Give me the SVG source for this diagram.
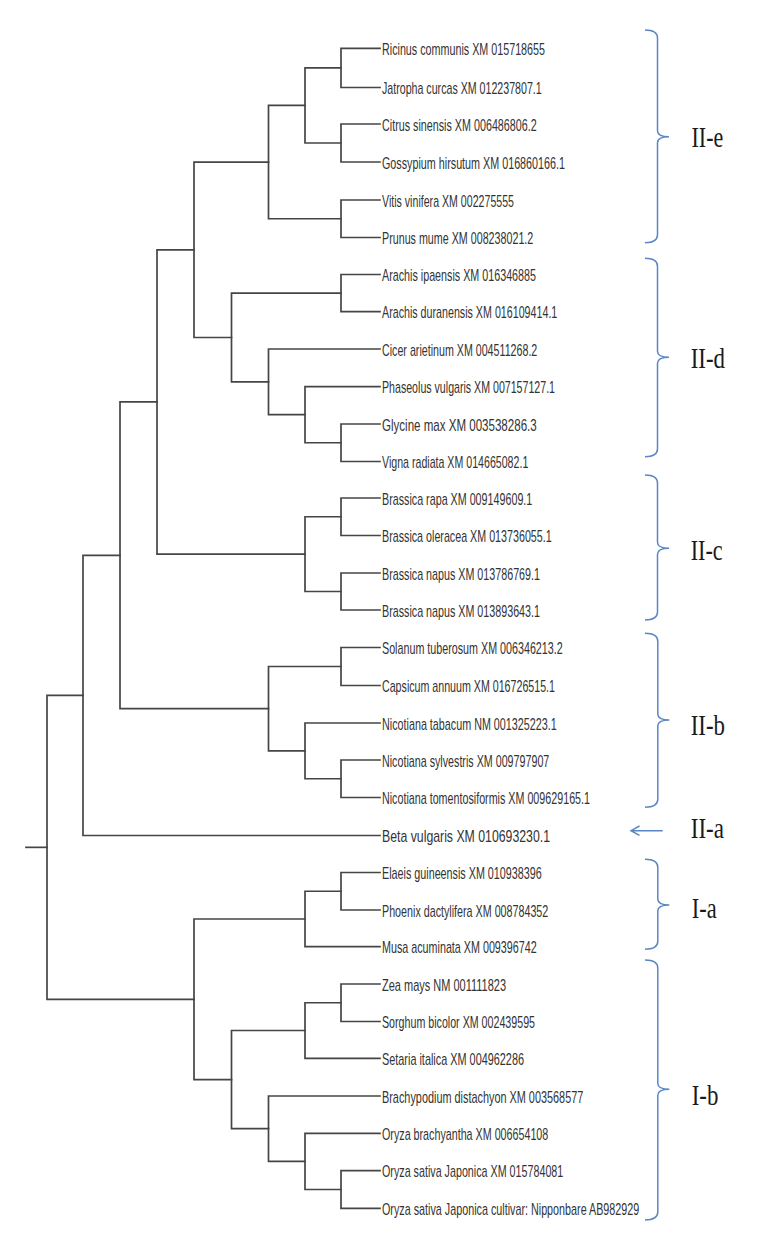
<svg xmlns="http://www.w3.org/2000/svg" width="768" height="1248" viewBox="0 0 768 1248">
<style>
.br{fill:none;stroke:#454545;stroke-width:1.7;stroke-linecap:square}
.lf{font-family:"Liberation Sans",Arial,sans-serif;font-size:17px;fill:#333333}
.bc{fill:none;stroke:#5a86c4;stroke-width:1.5}
.gl{font-family:"Liberation Serif","Times New Roman",serif;font-size:29px;fill:#1a1a1a}
</style>
<rect width="768" height="1248" fill="#ffffff"/>
<g id="connectors">
<path class="br" d="M380,48.3 H341 V87.5 H380"/>
<path class="br" d="M380,124 H341 V162 H380"/>
<path class="br" d="M341,67.9 H305 V143 H341"/>
<path class="br" d="M380,200 H341 V237.5 H380"/>
<path class="br" d="M305,105.45 H268.5 V218.75 H341"/>
<path class="br" d="M380,274.5 H341 V311.7 H380"/>
<path class="br" d="M380,424 H341 V461.5 H380"/>
<path class="br" d="M380,386.7 H305 V442.75 H341"/>
<path class="br" d="M380,349 H268.5 V414.7 H305"/>
<path class="br" d="M341,293.1 H231.5 V381.85 H268.5"/>
<path class="br" d="M268.5,162.1 H194 V337.5 H231.5"/>
<path class="br" d="M380,498 H341 V535.5 H380"/>
<path class="br" d="M380,573 H341 V610 H380"/>
<path class="br" d="M341,516.75 H305 V591.5 H341"/>
<path class="br" d="M194,249.8 H157 V554.1 H305"/>
<path class="br" d="M380,647.5 H341 V685.5 H380"/>
<path class="br" d="M380,760 H341 V797.5 H380"/>
<path class="br" d="M380,723 H305 V778.75 H341"/>
<path class="br" d="M341,666.5 H268.5 V750.9 H305"/>
<path class="br" d="M157,401.95 H120 V708.7 H268.5"/>
<path class="br" d="M120,555.3 H83 V835.5 H380"/>
<path class="br" d="M380,872.5 H341 V910 H380"/>
<path class="br" d="M341,891.25 H305 V946.7 H380"/>
<path class="br" d="M380,984 H341 V1021.5 H380"/>
<path class="br" d="M341,1002.75 H305 V1058.3 H380"/>
<path class="br" d="M380,1170.7 H341 V1208.3 H380"/>
<path class="br" d="M380,1133.3 H305 V1189.5 H341"/>
<path class="br" d="M380,1096 H268.5 V1161.4 H305"/>
<path class="br" d="M305,1030.5 H231.5 V1128.7 H268.5"/>
<path class="br" d="M305,918.98 H194 V1079.6 H231.5"/>
<path class="br" d="M83,695.4 H47 V999.3 H194"/>
<path class="br" d="M26,847.35 H47"/>
</g>
<g id="leaves">
<g id="leaf1"><text class="lf" x="382" y="55" textLength="163" lengthAdjust="spacingAndGlyphs">Ricinus communis XM 015718655</text></g>
<g id="leaf2"><text class="lf" x="382" y="94.2" textLength="159.7" lengthAdjust="spacingAndGlyphs">Jatropha curcas XM 012237807.1</text></g>
<g id="leaf3"><text class="lf" x="382" y="130.7" textLength="154.7" lengthAdjust="spacingAndGlyphs">Citrus sinensis XM 006486806.2</text></g>
<g id="leaf4"><text class="lf" x="382" y="168.7" textLength="183" lengthAdjust="spacingAndGlyphs">Gossypium hirsutum XM 016860166.1</text></g>
<g id="leaf5"><text class="lf" x="382" y="206.7" textLength="132" lengthAdjust="spacingAndGlyphs">Vitis vinifera XM 002275555</text></g>
<g id="leaf6"><text class="lf" x="382" y="244.2" textLength="151.3" lengthAdjust="spacingAndGlyphs">Prunus mume XM 008238021.2</text></g>
<g id="leaf7"><text class="lf" x="382" y="281.2" textLength="154" lengthAdjust="spacingAndGlyphs">Arachis ipaensis XM 016346885</text></g>
<g id="leaf8"><text class="lf" x="382" y="318.4" textLength="175.3" lengthAdjust="spacingAndGlyphs">Arachis duranensis XM 016109414.1</text></g>
<g id="leaf9"><text class="lf" x="382" y="355.7" textLength="155.3" lengthAdjust="spacingAndGlyphs">Cicer arietinum XM 004511268.2</text></g>
<g id="leaf10"><text class="lf" x="382" y="393.4" textLength="173" lengthAdjust="spacingAndGlyphs">Phaseolus vulgaris XM 007157127.1</text></g>
<g id="leaf11"><text class="lf" x="382" y="430.7" textLength="154.7" lengthAdjust="spacingAndGlyphs">Glycine max XM 003538286.3</text></g>
<g id="leaf12"><text class="lf" x="382" y="468.2" textLength="146.3" lengthAdjust="spacingAndGlyphs">Vigna radiata XM 014665082.1</text></g>
<g id="leaf13"><text class="lf" x="382" y="504.7" textLength="150.3" lengthAdjust="spacingAndGlyphs">Brassica rapa XM 009149609.1</text></g>
<g id="leaf14"><text class="lf" x="382" y="542.2" textLength="169.7" lengthAdjust="spacingAndGlyphs">Brassica oleracea XM 013736055.1</text></g>
<g id="leaf15"><text class="lf" x="382" y="579.7" textLength="158" lengthAdjust="spacingAndGlyphs">Brassica napus XM 013786769.1</text></g>
<g id="leaf16"><text class="lf" x="382" y="616.7" textLength="158" lengthAdjust="spacingAndGlyphs">Brassica napus XM 013893643.1</text></g>
<g id="leaf17"><text class="lf" x="382" y="654.2" textLength="180.7" lengthAdjust="spacingAndGlyphs">Solanum tuberosum XM 006346213.2</text></g>
<g id="leaf18"><text class="lf" x="382" y="692.2" textLength="173" lengthAdjust="spacingAndGlyphs">Capsicum annuum XM 016726515.1</text></g>
<g id="leaf19"><text class="lf" x="382" y="729.7" textLength="174.7" lengthAdjust="spacingAndGlyphs">Nicotiana tabacum NM 001325223.1</text></g>
<g id="leaf20"><text class="lf" x="382" y="766.7" textLength="167.3" lengthAdjust="spacingAndGlyphs">Nicotiana sylvestris XM 009797907</text></g>
<g id="leaf21"><text class="lf" x="382" y="804.2" textLength="208" lengthAdjust="spacingAndGlyphs">Nicotiana tomentosiformis XM 009629165.1</text></g>
<g id="leaf22"><text class="lf" x="382" y="842.2" textLength="168" lengthAdjust="spacingAndGlyphs">Beta vulgaris XM 010693230.1</text></g>
<g id="leaf23"><text class="lf" x="382" y="879.2" textLength="159.7" lengthAdjust="spacingAndGlyphs">Elaeis guineensis XM 010938396</text></g>
<g id="leaf24"><text class="lf" x="382" y="916.7" textLength="166.3" lengthAdjust="spacingAndGlyphs">Phoenix dactylifera XM 008784352</text></g>
<g id="leaf25"><text class="lf" x="382" y="953.4" textLength="154.7" lengthAdjust="spacingAndGlyphs">Musa acuminata XM 009396742</text></g>
<g id="leaf26"><text class="lf" x="382" y="990.7" textLength="124" lengthAdjust="spacingAndGlyphs">Zea mays NM 001111823</text></g>
<g id="leaf27"><text class="lf" x="382" y="1028.2" textLength="153" lengthAdjust="spacingAndGlyphs">Sorghum bicolor XM 002439595</text></g>
<g id="leaf28"><text class="lf" x="382" y="1065" textLength="142" lengthAdjust="spacingAndGlyphs">Setaria italica XM 004962286</text></g>
<g id="leaf29"><text class="lf" x="382" y="1102.7" textLength="201.3" lengthAdjust="spacingAndGlyphs">Brachypodium distachyon XM 003568577</text></g>
<g id="leaf30"><text class="lf" x="382" y="1140" textLength="166.3" lengthAdjust="spacingAndGlyphs">Oryza brachyantha XM 006654108</text></g>
<g id="leaf31"><text class="lf" x="382" y="1177.4" textLength="181.3" lengthAdjust="spacingAndGlyphs">Oryza sativa Japonica XM 015784081</text></g>
<g id="leaf32"><text class="lf" x="382" y="1215" textLength="257.3" lengthAdjust="spacingAndGlyphs">Oryza sativa Japonica cultivar: Nipponbare AB982929</text></g>
</g>
<g id="group-II-e">
<path class="bc" d="M645,30 Q657.5,30 657.5,38 V130.7 Q657.5,136.7 669,136.7 Q657.5,136.7 657.5,142.7 V234.7 Q657.5,242.7 645,242.7"/>
<text class="gl" x="691.5" y="147" textLength="31.7" lengthAdjust="spacingAndGlyphs">II-e</text>
</g>
<g id="group-II-d">
<path class="bc" d="M645,258.3 Q657.5,258.3 657.5,266.3 V351.3 Q657.5,357.3 669,357.3 Q657.5,357.3 657.5,363.3 V448.7 Q657.5,456.7 645,456.7"/>
<text class="gl" x="690.7" y="367.5" textLength="34.3" lengthAdjust="spacingAndGlyphs">II-d</text>
</g>
<g id="group-II-c">
<path class="bc" d="M645,475 Q657.5,475 657.5,483 V542.3 Q657.5,548.3 669,548.3 Q657.5,548.3 657.5,554.3 V612 Q657.5,620 645,620"/>
<text class="gl" x="690.7" y="559.5" textLength="32" lengthAdjust="spacingAndGlyphs">II-c</text>
</g>
<g id="group-II-b">
<path class="bc" d="M645,633.3 Q657.8,633.3 657.8,641.3 V714 Q657.8,720 669.3,720 Q657.8,720 657.8,726 V799.3 Q657.8,807.3 645,807.3"/>
<text class="gl" x="690.7" y="734.5" textLength="34.3" lengthAdjust="spacingAndGlyphs">II-b</text>
</g>
<g id="group-II-a">
<path class="bc" d="M662.7,830.7 H631 M639.5,826 L631,830.7 L639.5,835.4"/>
<text class="gl" x="690.7" y="838" textLength="33.3" lengthAdjust="spacingAndGlyphs">II-a</text>
</g>
<g id="group-I-a">
<path class="bc" d="M645,859.3 Q657.8,859.3 657.8,867.3 V899 Q657.8,905 669.3,905 Q657.8,905 657.8,911 V941.3 Q657.8,949.3 645,949.3"/>
<text class="gl" x="691.7" y="917.5" textLength="25" lengthAdjust="spacingAndGlyphs">I-a</text>
</g>
<g id="group-I-b">
<path class="bc" d="M645,960 Q657.8,960 657.8,968 V1083.3 Q657.8,1089.3 669.3,1089.3 Q657.8,1089.3 657.8,1095.3 V1212 Q657.8,1220 645,1220"/>
<text class="gl" x="691.7" y="1104.5" textLength="26.7" lengthAdjust="spacingAndGlyphs">I-b</text>
</g>
</svg>
